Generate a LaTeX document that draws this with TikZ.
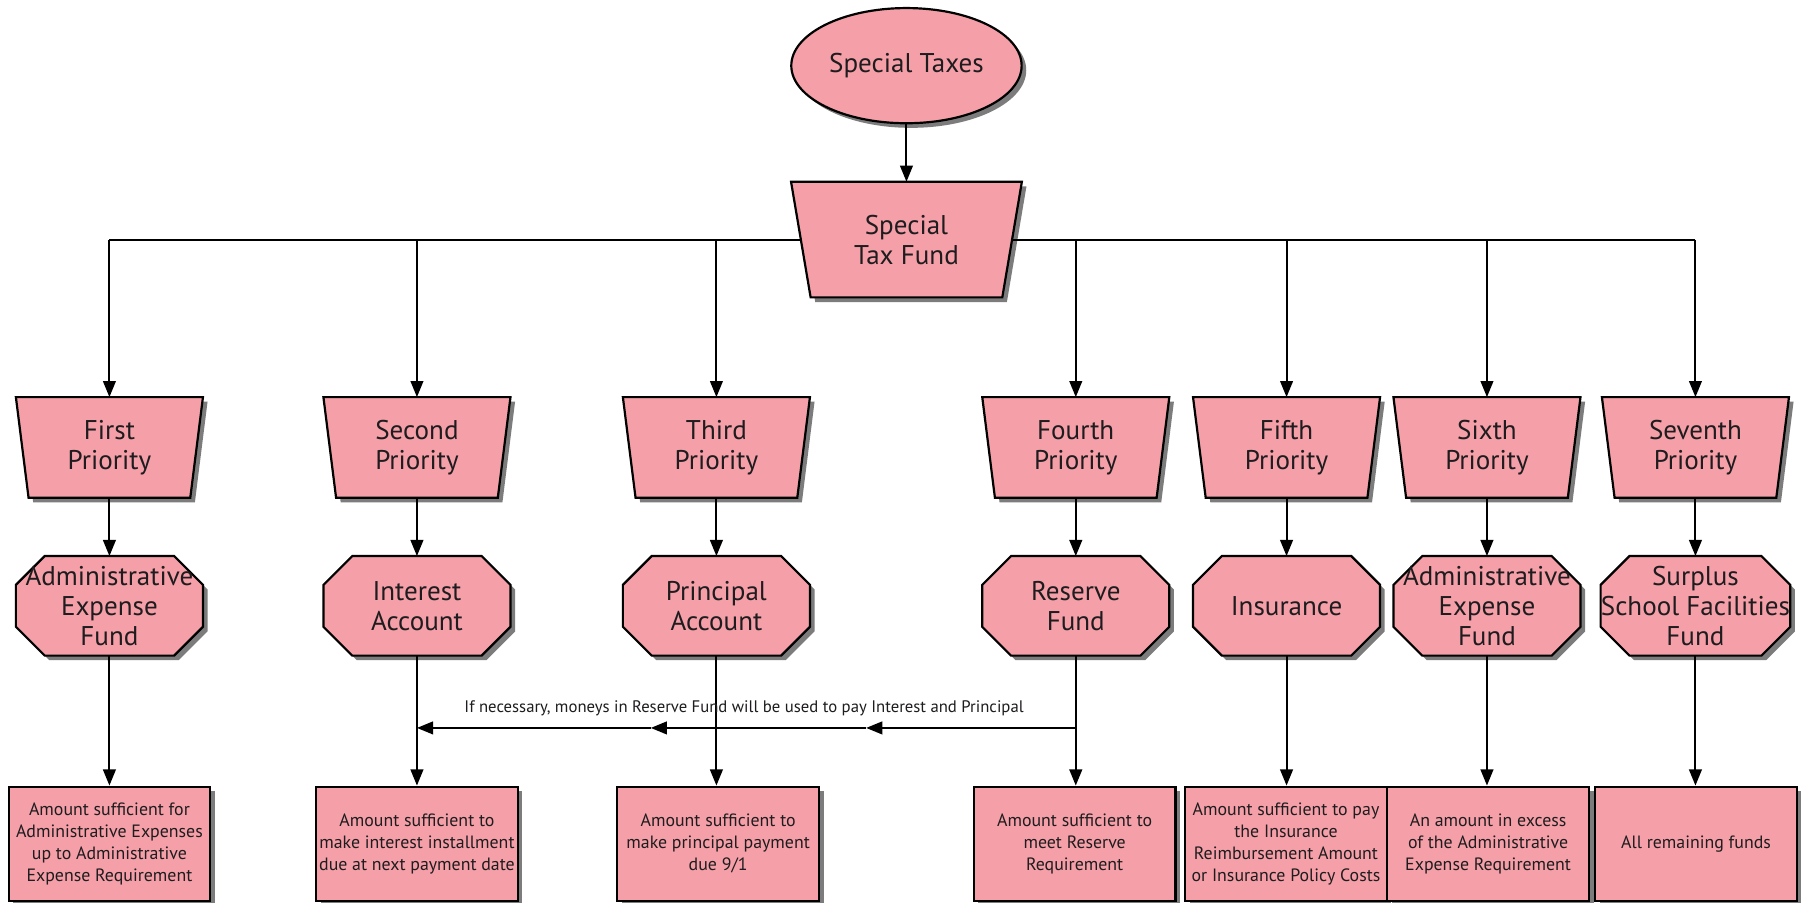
\documentclass[tikz,border=0pt]{standalone}
\usepackage{fontspec}
\setmainfont{PT Sans}
\usetikzlibrary{shapes.geometric,shadows,arrows.meta,backgrounds}
\definecolor{pk}{RGB}{245,160,168}
\definecolor{ink}{RGB}{30,28,30}
\tikzset{
  ln/.style={line width=1.7pt, draw=black},
  arr/.style={ln, -{Triangle[length=14pt,width=11pt]}},
  shp/.style={fill=pk, draw=black, line width=1.9pt, drop shadow={shadow xshift=4pt, shadow yshift=-4pt, fill=black!60, opacity=0.85}},
  bigtxt/.style={font=\fontsize{23.5}{26}\selectfont, text=ink, align=center, inner sep=0pt},
  tbox/.style={bigtxt, minimum width=162pt, minimum height=87pt},
  obox/.style={bigtxt, minimum width=162pt, minimum height=86pt},
  bbox/.style={shp, rectangle, minimum width=175pt, minimum height=99pt, inner sep=0pt, align=center, text=ink, font=\fontsize{15.5}{19}\selectfont},
  ell/.style={shp, ellipse, minimum width=200pt, minimum height=100pt, inner sep=0pt, font=\fontsize{23.5}{26}\selectfont, text=ink},
  lab/.style={font=\fontsize{14.5}{17}\selectfont, text=ink, inner sep=0pt}
}
\newcommand\mytrap[2]{\path[shp] (#1.north west) -- (#1.north east) -- ([xshift=-#2]#1.south east) -- ([xshift=#2]#1.south west) -- cycle;}
\newcommand\myoct[2]{\path[shp] ([xshift=#2]#1.north west) -- ([xshift=-#2]#1.north east) -- ([yshift=-#2]#1.north east) -- ([yshift=#2]#1.south east) -- ([xshift=-#2]#1.south east) -- ([xshift=#2]#1.south west) -- ([yshift=#2]#1.south west) -- ([yshift=-#2]#1.north west) -- cycle;}
\begin{document}
\begin{tikzpicture}[x=1pt,y=-1pt]
\useasboundingbox (0,0) rectangle (1568,784);

% top
\node[ell] (st) at (787,57) {Special Taxes};
\node[bigtxt, minimum width=200pt, minimum height=100pt] (stf) at (787,208) {Special\\Tax Fund};

% priorities
\foreach \i/\x/\t in {1/95/First, 2/362/Second, 3/622/Third, 4/934/Fourth, 5/1117/Fifth, 6/1291/Sixth, 7/1472/Seventh}{
  \node[tbox] (p\i) at (\x,388.5) {\t\\Priority};
}

% funds
\node[obox] (o1) at (95,526) {Administrative\\Expense\\Fund};
\node[obox] (o2) at (362,526) {Interest\\Account};
\node[obox] (o3) at (622,526) {Principal\\Account};
\node[obox] (o4) at (934,526) {Reserve\\Fund};
\node[obox] (o5) at (1117,526) {Insurance};
\node[obox] (o6) at (1291,526) {Administrative\\Expense\\Fund};
\node[obox] (o7) at (1472,526) {Surplus\\School Facilities\\Fund};

% background shapes
\begin{pgfonlayer}{background}
  \fill[white] (0,0) rectangle (1568,784);
  \mytrap{stf}{17pt}
  \foreach \i in {1,...,7}{\mytrap{p\i}{11pt}}
  \foreach \i in {1,...,7}{\myoct{o\i}{25pt}}
\end{pgfonlayer}

% bottom boxes
\node[bbox] (b1) at (95,732.5) {Amount sufficient for\\Administrative Expenses\\up to Administrative\\Expense Requirement};
\node[bbox] (b2) at (362,732.5) {Amount sufficient to\\make interest installment\\due at next payment date};
\node[bbox] (b3) at (623.5,732.5) {Amount sufficient to\\make principal payment\\due 9/1};
\node[bbox] (b4) at (933,732.5) {Amount sufficient to\\meet Reserve\\Requirement};
\node[bbox] (b5) at (1116.5,732.5) {Amount sufficient to pay\\the Insurance\\Reimbursement Amount\\or Insurance Policy Costs};
\node[bbox] (b6) at (1292,732.5) {An amount in excess\\of the Administrative\\Expense Requirement};
\node[bbox] (b7) at (1472.5,732.5) {All remaining funds};

% connectors
\draw[arr] (st.south) -- (stf.north);
\draw[ln] (p1.north |- stf.west) -- ([xshift=8.5pt]stf.west);
\draw[ln] ([xshift=-8.5pt]stf.east) -- (p7.north |- stf.east);
\foreach \i in {1,2,3}{\draw[arr] (p\i.north |- stf.west) -- (p\i.north);}
\foreach \i in {4,5,6,7}{\draw[arr] (p\i.north |- stf.east) -- (p\i.north);}
\foreach \i in {1,...,7}{\draw[arr] (p\i.south) -- (o\i.north);}
\foreach \i in {1,...,7}{\draw[arr] (o\i.south) -- (o\i.south |- b\i.north);}

% reserve flow
\coordinate (rline) at (0,632);
\coordinate (m1) at (752,632);
\coordinate (m2) at (565,632);
\draw[arr] (o4.south |- rline) -- (m1);
\draw[arr] (m1) -- (m2);
\draw[arr] (m2) -- (o2.south |- rline);
\node[lab] (note) at (646,615) {If necessary, moneys in Reserve Fund will be used to pay Interest and Principal};
\end{tikzpicture}
\end{document}
